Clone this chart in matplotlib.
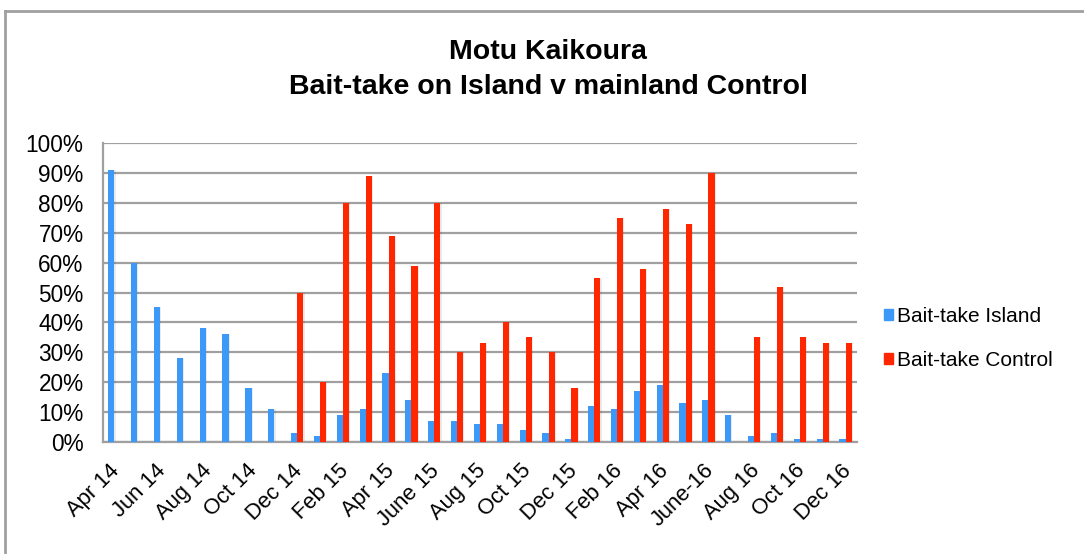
import matplotlib
matplotlib.use("Agg")
import matplotlib.pyplot as plt
import matplotlib.transforms as mtransforms
from matplotlib.lines import Line2D
import numpy as np

plt.rcParams['font.family'] = ['Liberation Sans', 'DejaVu Sans']

months = ["Apr 14", "May 14", "Jun 14", "Jul 14", "Aug 14", "Sep 14", "Oct 14", "Nov 14",
          "Dec 14", "Jan 15", "Feb 15", "Mar 15", "Apr 15", "May 15", "June 15", "Jul 15",
          "Aug 15", "Sep 15", "Oct 15", "Nov 15", "Dec 15", "Jan 16", "Feb 16", "Mar 16",
          "Apr 16", "May 16", "June-16", "Jul 16", "Aug 16", "Sep 16", "Oct 16", "Nov 16",
          "Dec 16"]
island = [91, 60, 45, 28, 38, 36, 18, 11, 3, 2, 9, 11, 23, 14, 7, 7, 6, 6, 4, 3, 1,
          12, 11, 17, 19, 13, 14, 9, 2, 3, 1, 1, 1]
control = [0, 0, 0, 0, 0, 0, 0, 0, 50, 20, 80, 89, 69, 59, 80, 30, 33, 40, 35, 30, 18,
           55, 75, 58, 78, 73, 90, 0, 35, 52, 35, 33, 33]
shown_labels = ["Apr 14", "Jun 14", "Aug 14", "Oct 14", "Dec 14", "Feb 15", "Apr 15",
                "June 15", "Aug 15", "Oct 15", "Dec 15", "Feb 16", "Apr 16", "June-16",
                "Aug 16", "Oct 16", "Dec 16"]
yticks = [0, 10, 20, 30, 40, 50, 60, 70, 80, 90, 100]

blue = "#3d99f7"
red = "#ff2600"
grid = "#a0a0a0"

W, H = 1084, 554
fig = plt.figure(figsize=(W / 100, H / 100), dpi=100)
ax = fig.add_axes([103 / W, 1 - 442 / H, (857 - 103) / W, (442 - 143) / H])

x = np.arange(len(months))
bw = 0.27
# faint shadows
ax.bar(x - bw / 2 + 0.05, island, bw, color="#000000", alpha=0.08, zorder=2, linewidth=0)
ax.bar(x + bw / 2 + 0.05, control, bw, color="#000000", alpha=0.08, zorder=2, linewidth=0)
ax.bar(x - bw / 2, island, bw, color=blue, zorder=3, linewidth=0, label="Bait-take Island")
ax.bar(x + bw / 2, control, bw, color=red, zorder=3, linewidth=0, label="Bait-take Control")

ax.set_xlim(-0.5, len(months) - 0.5)
ax.set_ylim(0, 100)
ax.set_yticks(yticks)
ax.set_yticklabels([f"{v}%" for v in yticks], fontsize=16.3)
ax.yaxis.grid(True, color=grid, linewidth=1.6, zorder=1)
ax.set_axisbelow(True)
ax.tick_params(axis='y', length=0, pad=14)
ax.tick_params(axis='x', length=0, pad=13)

ax.set_xticks(x[::2])
ax.set_xticklabels(shown_labels, rotation=45, ha='right', va='top', fontsize=15.8,
                   rotation_mode='anchor')
offset = mtransforms.ScaledTranslation(-5 / 100, 0, fig.dpi_scale_trans)
for lbl in ax.get_xticklabels():
    lbl.set_transform(lbl.get_transform() + offset)

for s in ['top', 'right']:
    ax.spines[s].set_visible(False)
for s in ['left', 'bottom']:
    ax.spines[s].set_color(grid)
    ax.spines[s].set_linewidth(1.6)

fig.text(548 / W, 1 - 52 / H, "Motu Kaikoura", ha='center', va='center',
         fontsize=20.5, fontweight='bold')
fig.text(548 / W, 1 - 87 / H, "Bait-take on Island v mainland Control", ha='center',
         va='center', fontsize=20.5, fontweight='bold')

leg = fig.legend(handles=[plt.Rectangle((0, 0), 1, 1, color=blue),
                          plt.Rectangle((0, 0), 1, 1, color=red)],
                 labels=["Bait-take Island", "Bait-take Control"],
                 loc='center left', bbox_to_anchor=(884 / W, 1 - 338.5 / H),
                 frameon=False, fontsize=15, handlelength=0.42, handleheight=0.42,
                 handletextpad=0.2, labelspacing=1.2, borderaxespad=0, borderpad=0)

# outer border lines (top and left)
fig.add_artist(Line2D([5 / W, 5 / W], [0, 1 - 11 / H], transform=fig.transFigure,
                      color=grid, linewidth=2))
fig.add_artist(Line2D([5 / W, 1], [1 - 11 / H, 1 - 11 / H], transform=fig.transFigure,
                      color=grid, linewidth=2))

fig.savefig("out.png", dpi=100, facecolor="white")
